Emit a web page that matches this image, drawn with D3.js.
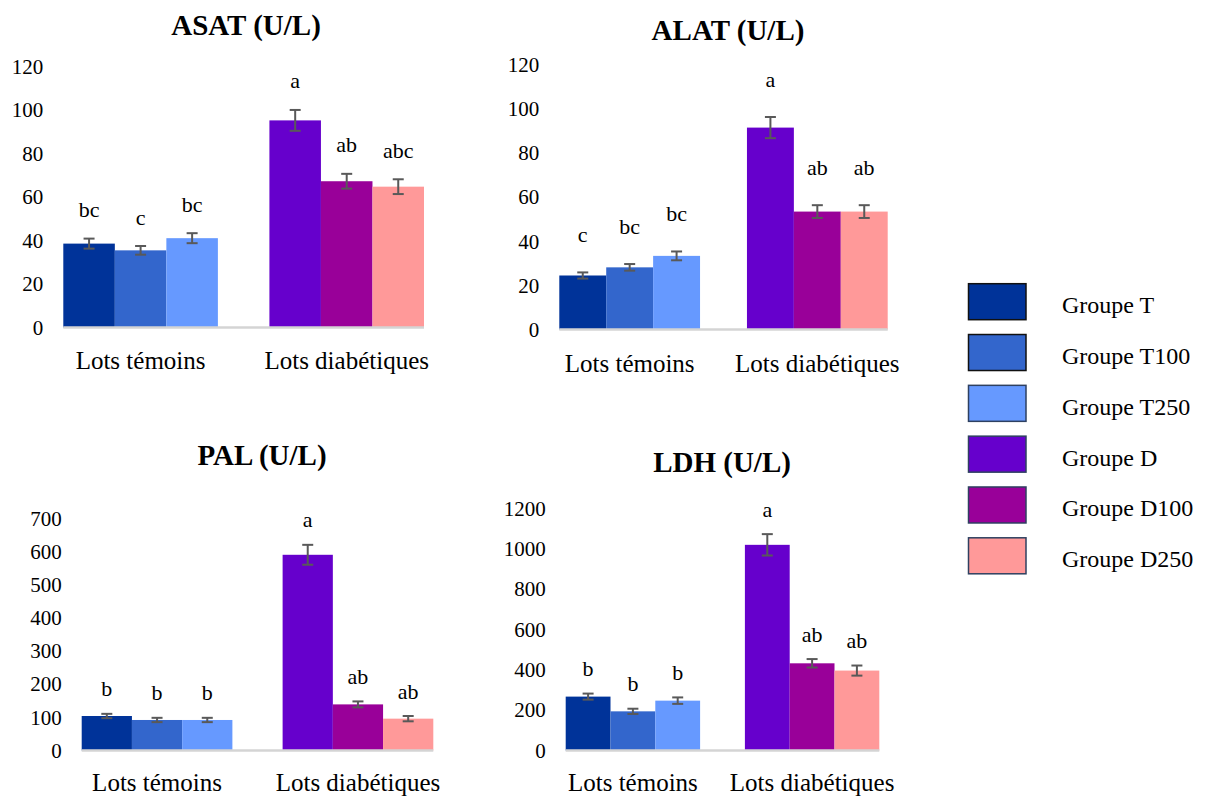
<!DOCTYPE html>
<html>
<head>
<meta charset="utf-8">
<script src="https://cdn.jsdelivr.net/npm/d3@7"></script>
<style>
  html, body { margin: 0; padding: 0; background: #ffffff; }
  svg { display: block; font-family: "Liberation Serif", "Times New Roman", serif; }
  svg text { font-family: "Liberation Serif", "Times New Roman", serif; }
</style>
</head>
<body>
<svg id="chart" width="1212" height="796" font-family="Liberation Serif, serif"></svg>
<script>
// Lots (x categories) and treatment groups
const categories = ["Lots témoins", "Lots diabétiques"];
const groups = ["Groupe T", "Groupe T100", "Groupe T250", "Groupe D", "Groupe D100", "Groupe D250"];
const groupColors = ["#003399", "#3366CC", "#6699FF", "#6600CC", "#990099", "#FF9999"];

// Mean enzyme activities (U/L), standard errors and significance letters
const asatValues = [38.6, 35.5, 41.1, 95.3, 67.3, 64.8];
const asatErrors = [2.3, 2.0, 2.3, 4.8, 3.4, 3.4];
const asatLetters = ["bc", "c", "bc", "a", "ab", "abc"];
const asatTicks = [0, 20, 40, 60, 80, 100, 120];

const alatValues = [24.5, 28.2, 33.4, 91.6, 53.5, 53.5];
const alatErrors = [1.4, 1.5, 2.0, 4.8, 2.9, 2.9];
const alatLetters = ["c", "bc", "bc", "a", "ab", "ab"];
const alatTicks = [0, 20, 40, 60, 80, 100, 120];

const palValues = [104, 92, 92, 590, 139, 96];
const palErrors = [6.5, 6.5, 6.5, 30, 9, 8];
const palLetters = ["b", "b", "b", "a", "ab", "ab"];
const palTicks = [0, 100, 200, 300, 400, 500, 600, 700];

const ldhValues = [267, 194, 247, 1019, 432, 396];
const ldhErrors = [15, 13, 16, 53, 21, 25];
const ldhLetters = ["b", "b", "b", "a", "ab", "ab"];
const ldhTicks = [0, 200, 400, 600, 800, 1000, 1200];

// Panel layout (pixel frames for each small chart)
const panels = [
  { title: "ASAT (U/L)", values: asatValues, errors: asatErrors, letters: asatLetters, ticks: asatTicks,
    x0: 63.3, x1: 424, yBase: 327.5, yTopPx: 66.7, titleX: 246, titleY: 35, catY: 360, letterGap: 29 },
  { title: "ALAT (U/L)", values: alatValues, errors: alatErrors, letters: alatLetters, ticks: alatTicks,
    x0: 559.3, x1: 887.7, yBase: 329.5, yTopPx: 65, titleX: 728, titleY: 40, catY: 363, letterGap: 38 },
  { title: "PAL (U/L)", values: palValues, errors: palErrors, letters: palLetters, ticks: palTicks,
    x0: 81.7, x1: 433.3, yBase: 750.5, yTopPx: 518.3, titleX: 262, titleY: 465, catY: 782.5, letterGap: 25 },
  { title: "LDH (U/L)", values: ldhValues, errors: ldhErrors, letters: ldhLetters, ticks: ldhTicks,
    x0: 565.7, x1: 879.3, yBase: 750.5, yTopPx: 508.3, titleX: 722, titleY: 471.7, catY: 782, letterGap: 25 }
];

const serif = "'Liberation Serif', 'Times New Roman', serif";
const svg = d3.select("#chart");
const color = d3.scaleOrdinal().domain(groups).range(groupColors);

panels.forEach(p => {
  const g = svg.append("g");
  const yMax = p.ticks[p.ticks.length - 1];
  const y = d3.scaleLinear().domain([0, yMax]).range([p.yBase, p.yTopPx]);
  const x = d3.scaleBand().domain(categories).range([p.x0, p.x1]).paddingInner(0.25).paddingOuter(0);
  const inner = d3.scaleBand().domain([0, 1, 2]).range([0, x.bandwidth()]).padding(0);

  const rows = groups.map((name, i) => ({
    name, value: p.values[i], err: p.errors[i], letter: p.letters[i],
    cat: categories[i < 3 ? 0 : 1], slot: i % 3
  }));
  const bx = d => x(d.cat) + inner(d.slot);

  // title
  g.append("text")
    .attr("x", p.titleX).attr("y", p.titleY)
    .attr("text-anchor", "middle")
    .style("font-family", serif)
    .style("font-size", "29px").style("font-weight", "bold").attr("fill", "#000")
    .text(p.title);

  // y axis labels (no axis line, no tick marks)
  const yAxis = d3.axisLeft(y).tickValues(p.ticks).tickSize(0).tickPadding(20).tickFormat(d3.format("d"));
  const ya = g.append("g").attr("transform", `translate(${p.x0},0)`).call(yAxis)
    .attr("font-family", null);
  ya.select(".domain").remove();
  ya.selectAll("text").style("font-size", "21px").attr("fill", "#000")
    .style("font-family", serif);

  // bars
  g.selectAll("rect.bar").data(rows).enter().append("rect")
    .attr("class", "bar")
    .attr("x", bx)
    .attr("y", d => y(d.value))
    .attr("width", inner.bandwidth())
    .attr("height", d => y(0) - y(d.value))
    .attr("fill", d => color(d.name));

  // baseline
  g.append("line")
    .attr("x1", p.x0).attr("x2", p.x1)
    .attr("y1", y(0)).attr("y2", y(0))
    .attr("stroke", "#d4d4d4").attr("stroke-width", 2.5);

  // error bars
  const eb = g.selectAll("g.err").data(rows).enter().append("g").attr("class", "err")
    .attr("stroke", "#595959").attr("stroke-width", 2);
  const cx = d => bx(d) + inner.bandwidth() / 2;
  eb.append("line").attr("x1", cx).attr("x2", cx)
    .attr("y1", d => y(d.value + d.err)).attr("y2", d => y(d.value - d.err));
  eb.append("line").attr("x1", d => cx(d) - 5.5).attr("x2", d => cx(d) + 5.5)
    .attr("y1", d => y(d.value + d.err)).attr("y2", d => y(d.value + d.err));
  eb.append("line").attr("x1", d => cx(d) - 5.5).attr("x2", d => cx(d) + 5.5)
    .attr("y1", d => y(d.value - d.err)).attr("y2", d => y(d.value - d.err));

  // significance letters
  g.selectAll("text.sig").data(rows).enter().append("text")
    .attr("class", "sig")
    .attr("x", cx)
    .attr("y", d => y(d.value + d.err) - p.letterGap)
    .attr("text-anchor", "middle").attr("dominant-baseline", "central")
    .style("font-family", serif)
    .style("font-size", "22px").attr("fill", "#000")
    .text(d => d.letter);

  // category labels
  g.selectAll("text.cat").data(categories).enter().append("text")
    .attr("class", "cat")
    .attr("x", d => x(d) + x.bandwidth() / 2)
    .attr("y", p.catY)
    .attr("text-anchor", "middle").attr("dominant-baseline", "central")
    .style("font-family", serif)
    .style("font-size", "25px").attr("fill", "#000")
    .text(d => d);
});

// legend
const legendY = d3.scalePoint().domain(groups).range([301.7, 555.8]);
const legend = svg.append("g");
legend.selectAll("rect").data(groups).enter().append("rect")
  .attr("x", 968.5).attr("y", d => legendY(d) - 18)
  .attr("width", 57.5).attr("height", 36)
  .attr("fill", d => color(d))
  .attr("stroke", (d, i) => i < 2 ? "#111111" : "#2e4060").attr("stroke-width", 1.5);
legend.selectAll("text").data(groups).enter().append("text")
  .attr("x", 1062).attr("y", d => legendY(d) + 3.5)
  .attr("dominant-baseline", "central")
  .style("font-family", serif)
  .style("font-size", "24px").attr("fill", "#000")
  .text(d => d);
</script>
</body>
</html>
